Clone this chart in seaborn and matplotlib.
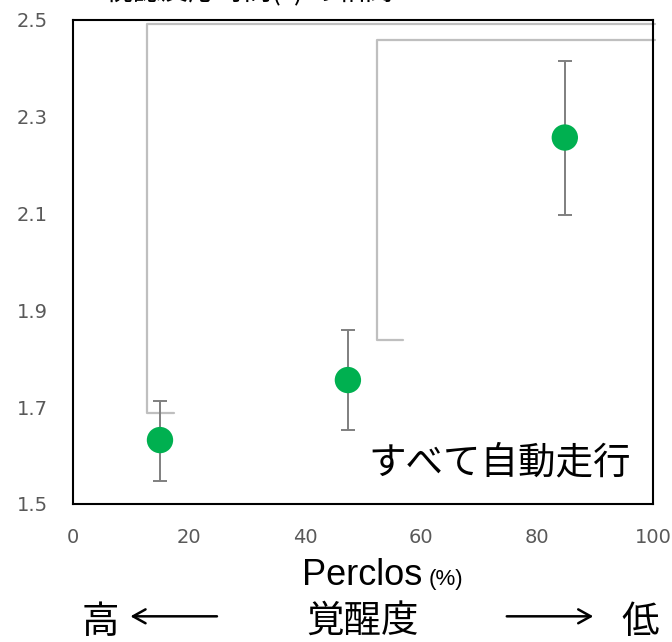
import matplotlib
matplotlib.use("Agg")
import matplotlib.pyplot as plt
import seaborn as sns
import pandas as pd

# data
perclos = [15.0, 47.4, 84.8]
mean_val = [1.632, 1.756, 2.257]
err_low = [1.547, 1.653, 2.096]
err_high = [1.712, 1.859, 2.415]

# grey leader lines (left x, right x of the small tick, y of tick, y of top)
bracket_x = [12.8, 52.4]
bracket_x2 = [17.4, 56.9]
bracket_y = [1.688, 1.838]
bracket_top = [2.492, 2.459]

yticks = [1.5, 1.7, 1.9, 2.1, 2.3, 2.5]
xticks = [0, 20, 40, 60, 80, 100]

sns.set_style("white")
plt.rcParams["font.family"] = ["DejaVu Sans", "Noto Sans CJK JP"]
plt.rcParams["text.color"] = "black"

df = pd.DataFrame({"perclos": perclos, "mean": mean_val})

fig = plt.figure(figsize=(6.72, 6.42), dpi=100)
ax = fig.add_axes([0.1086, 0.215, 0.8631, 0.754])

for bx, bx2, by, bt in zip(bracket_x, bracket_x2, bracket_y, bracket_top):
    ax.plot([bx2, bx, bx, 100.3], [by, by, bt, bt], color="#bfbfbf",
            lw=1.6, clip_on=False, zorder=1)

yerr = [[m - l for m, l in zip(mean_val, err_low)],
        [h - m for m, h in zip(mean_val, err_high)]]
ax.errorbar(perclos, mean_val, yerr=yerr, fmt="none", ecolor="#7f7f7f",
            elinewidth=1.4, capsize=5, capthick=1.4, zorder=2)
sns.scatterplot(data=df, x="perclos", y="mean", ax=ax, s=360, color="#00b050",
                edgecolor="none", zorder=3)

ax.set_xlim(0, 100)
ax.set_ylim(1.5, 2.5)
ax.set_xticks(xticks)
ax.set_yticks(yticks)
ax.set_yticklabels([f"{v:.1f}" for v in yticks])
ax.tick_params(axis="both", labelsize=14, colors="#595959", length=0)
ax.tick_params(axis="x", pad=17)
ax.tick_params(axis="y", pad=18)
ax.set_xlabel("")
ax.set_ylabel("")
for sp in ax.spines.values():
    sp.set_color("black")
    sp.set_linewidth(1.5)

ax.text(0.735, 0.085, "すべて自動走行", transform=ax.transAxes, ha="center",
        va="center", fontsize=27, family=["Noto Sans CJK JP"])

# cut-off title at the very top (cropped in the reference too)
fig.text(0.37, 1.012, "視認反応時間(s) の相関", ha="center", va="center",
         fontsize=20, family=["Noto Sans CJK JP"])

fig.text(0.628, 0.103, "Perclos", ha="right", va="center", fontsize=26,
         family=["Liberation Sans Narrow", "Liberation Sans"])
fig.text(0.638, 0.098, "(%)", ha="left", va="center", fontsize=16,
         family=["Liberation Sans Narrow", "Liberation Sans"])

fig.text(0.149, 0.03, "高", ha="center", va="center", fontsize=27,
         family=["Noto Sans CJK JP"])
fig.text(0.540, 0.033, "覚醒度", ha="center", va="center", fontsize=27,
         family=["Noto Sans CJK JP"])
fig.text(0.953, 0.03, "低", ha="center", va="center", fontsize=27,
         family=["Noto Sans CJK JP"])
fig.add_artist(matplotlib.patches.FancyArrowPatch(
    (0.327, 0.04), (0.19, 0.04), transform=fig.transFigure,
    arrowstyle="->,head_length=9,head_width=5", lw=1.8, color="black"))
fig.add_artist(matplotlib.patches.FancyArrowPatch(
    (0.75, 0.04), (0.887, 0.04), transform=fig.transFigure,
    arrowstyle="->,head_length=9,head_width=5", lw=1.8, color="black"))

fig.savefig("out.png", dpi=100)
